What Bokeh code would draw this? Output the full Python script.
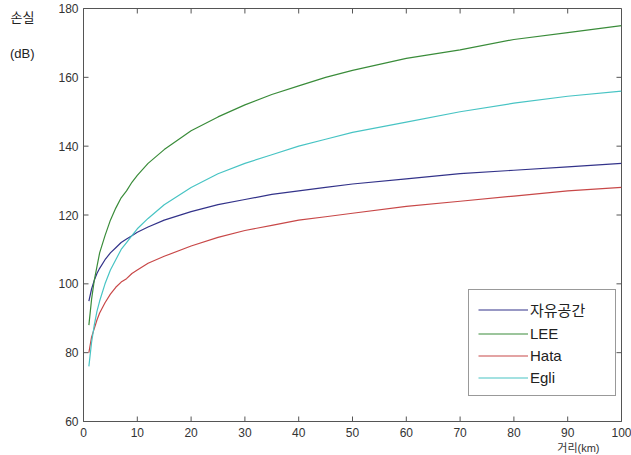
from bokeh.plotting import figure
from bokeh.models import LinearAxis, FixedTicker, Legend, LegendItem, Range1d, Title
from bokeh.embed import file_html
from bokeh.resources import INLINE

# distance (km)
distance = [1, 1.5, 2, 2.5, 3, 4, 5, 6, 7, 8, 9, 10, 12, 15, 20, 25, 30, 35, 40, 45, 50, 60, 70, 80, 90, 100]
# path loss (dB)
free_space = [95, 98.5, 101, 103, 104.5, 107, 109, 110.5, 112, 113, 114, 115, 116.5, 118.5, 121, 123, 124.5, 126, 127, 128, 129, 130.5, 132, 133, 134, 135]
lee = [88, 95.5, 101, 105, 109, 114, 118.5, 122, 125, 127, 129.5, 131.5, 135, 139, 144.5, 148.5, 152, 155, 157.5, 160, 162, 165.5, 168, 171, 173, 175]
hata = [80, 84.5, 87, 89.5, 91.5, 94.5, 97, 99, 100.5, 101.5, 103, 104, 106, 108, 111, 113.5, 115.5, 117, 118.5, 119.5, 120.5, 122.5, 124, 125.5, 127, 128]
egli = [76, 83, 88, 92, 95, 100, 104, 107, 110, 112, 114, 116, 119, 123, 128, 132, 135, 137.5, 140, 142, 144, 147, 150, 152.5, 154.5, 156]

series_names = ["자유공간", "LEE", "Hata", "Egli"]
series_colors = ["#33338a", "#3a8c3a", "#c84848", "#48c4c4"]
x_ticks = [0, 10, 20, 30, 40, 50, 60, 70, 80, 90, 100]
y_ticks = [60, 80, 100, 120, 140, 160, 180]
x_label = "거리(km)"
y_label = "\n\n\n손실\n\n(dB)"

FONT = "Liberation Sans, Noto Sans CJK KR"
AX_COL = "#555555"

p = figure(width=631, height=455, output_backend="svg", toolbar_location=None,
           x_range=Range1d(x_ticks[0], x_ticks[-1]), y_range=Range1d(y_ticks[0], y_ticks[-1]),
           min_border_left=83, min_border_right=10, min_border_top=8, min_border_bottom=34,
           x_axis_location=None, y_axis_location=None)
p.grid.visible = False
p.background_fill_color = "white"
p.border_fill_color = "white"
p.outline_line_color = AX_COL
p.outline_line_width = 1


def make_axis(ticks, standoff):
    ax = LinearAxis(ticker=FixedTicker(ticks=ticks))
    ax.axis_line_color = AX_COL
    ax.major_tick_line_color = None
    ax.major_tick_in = 0
    ax.major_tick_out = 0
    ax.minor_tick_line_color = None
    ax.major_label_text_font = FONT
    ax.major_label_text_color = "#333333"
    ax.major_label_text_font_size = "12px"
    ax.major_label_standoff = standoff
    return ax


p.add_layout(make_axis(x_ticks, 6), "below")
p.add_layout(make_axis(y_ticks, 5), "left")

# y-axis title (horizontal, at the top-left) carried by a tick-less axis
yl_lab = LinearAxis(ticker=FixedTicker(ticks=[]))
yl_lab.axis_line_color = None
yl_lab.major_tick_line_color = None
yl_lab.minor_tick_line_color = None
yl_lab.major_tick_in = 0
yl_lab.major_tick_out = 0
yl_lab.axis_label = y_label
yl_lab.axis_label_text_font = FONT
yl_lab.axis_label_text_font_style = "normal"
yl_lab.axis_label_text_color = "#222222"
yl_lab.axis_label_text_font_size = "13px"
yl_lab.axis_label_standoff = 21
yl_lab.axis_label_align = "end"
yl_lab.axis_label_orientation = "horizontal"
p.add_layout(yl_lab, "left")

# x-axis title at the bottom right
p.add_layout(Title(text=x_label, align="right", offset=22, standoff=0,
                   text_font=FONT, text_font_size="11px", text_font_style="normal",
                   text_color="#333333"), "below")

# inward tick marks on all four sides, placed at the tick values
tick_dx = 0.93   # ~5 px in x data units
tick_dy = 1.45   # ~5 px in y data units
y0, y1 = y_ticks[0], y_ticks[-1]
x0, x1 = x_ticks[0], x_ticks[-1]
p.segment(x0=x_ticks, y0=[y0] * len(x_ticks), x1=x_ticks, y1=[y0 + tick_dy] * len(x_ticks),
          line_color=AX_COL, line_width=1)
p.segment(x0=x_ticks, y0=[y1] * len(x_ticks), x1=x_ticks, y1=[y1 - tick_dy] * len(x_ticks),
          line_color=AX_COL, line_width=1)
p.segment(x0=[x0] * len(y_ticks), y0=y_ticks, x1=[x0 + tick_dx] * len(y_ticks), y1=y_ticks,
          line_color=AX_COL, line_width=1)
p.segment(x0=[x1] * len(y_ticks), y0=y_ticks, x1=[x1 - tick_dx] * len(y_ticks), y1=y_ticks,
          line_color=AX_COL, line_width=1)

all_series = [free_space, lee, hata, egli]
items = []
for name, col, ys in zip(series_names, series_colors, all_series):
    r = p.line(distance, ys, line_color=col, line_width=1.2)
    items.append(LegendItem(label=name, renderers=[r]))

legend = Legend(items=items, location=(385, 25), border_line_color="#333333",
                border_line_width=1, background_fill_color="white", background_fill_alpha=1,
                label_text_font=FONT, label_text_font_size="15px", label_text_color="#222222",
                glyph_width=50, glyph_height=17, label_height=17, label_width=76,
                label_standoff=2, spacing=5, padding=9, margin=0)
p.add_layout(legend, "center")

open("out.html", "w").write(file_html(p, INLINE))
